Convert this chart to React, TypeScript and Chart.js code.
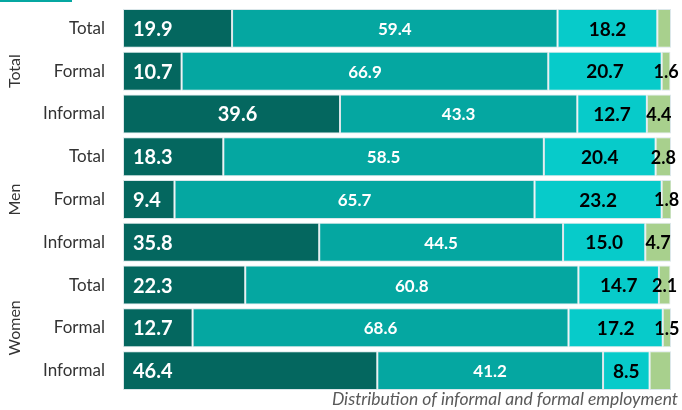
import React, { useEffect, useRef } from "react";
import { Chart, registerables } from "chart.js";

Chart.register(...registerables);

const rowLabels = ["Total", "Formal", "Informal", "Total", "Formal", "Informal", "Total", "Formal", "Informal"];
const groupLabels = ["Total", "Men", "Women"];
const seriesNames = ["Informal employment (informal sector)", "Informal employment (formal sector)", "Formal employment (formal sector)", "Other"];
const darkSeries = [19.9, 10.7, 39.6, 18.3, 9.4, 35.8, 22.3, 12.7, 46.4];
const tealSeries = [59.4, 66.9, 43.3, 58.5, 65.7, 44.5, 60.8, 68.6, 41.2];
const cyanSeries = [18.2, 20.7, 12.7, 20.4, 23.2, 15.0, 14.7, 17.2, 8.5];
const greenSeries = [2.5, 1.6, 4.4, 2.8, 1.8, 4.7, 2.1, 1.5, 3.9];
const greenShown = [false, true, true, true, true, true, true, true, false];
const darkLabelAlign = ["left", "left", "center", "left", "left", "left", "left", "left", "left"];
const caption = "Distribution of informal and formal employment";

const colors = ["#04675F", "#05A7A1", "#07CBCA", "#A8D08D"];
const FONT = "Lato, 'Open Sans', sans-serif";

const labelPlugin = {
  id: "labelsPlugin",
  afterDatasetsDraw(chart: any) {
    const ctx = chart.ctx;
    ctx.save();
    ctx.textBaseline = "middle";
    const yScale = chart.scales.y;
    chart.data.datasets.forEach((ds: any, di: number) => {
      const meta = chart.getDatasetMeta(di);
      meta.data.forEach((el: any, i: number) => {
        const v = ds.data[i];
        if (di === 3 && !greenShown[i]) return;
        const txt = v.toFixed(1);
        const left = Math.min(el.x, el.base);
        const right = Math.max(el.x, el.base);
        const cx = (left + right) / 2;
        if (di === 0) {
          ctx.fillStyle = "#ffffff";
          ctx.font = `bold 20px ${FONT}`;
          if (darkLabelAlign[i] === "left") {
            ctx.textAlign = "left";
            ctx.fillText(txt, left + 10, el.y + 1);
          } else {
            ctx.textAlign = "center";
            ctx.fillText(txt, cx + 6, el.y + 1);
          }
        } else if (di === 1) {
          ctx.fillStyle = "#ffffff";
          ctx.font = `bold 17px ${FONT}`;
          ctx.textAlign = "center";
          ctx.fillText(txt, cx, el.y + 1);
        } else if (di === 2) {
          ctx.fillStyle = "#000000";
          ctx.font = `bold 19px ${FONT}`;
          ctx.textAlign = "center";
          ctx.fillText(txt, cx, el.y + 1);
        } else {
          ctx.fillStyle = "#000000";
          ctx.font = `bold 18px ${FONT}`;
          ctx.textAlign = "center";
          ctx.fillText(txt, cx, el.y + 1);
        }
      });
    });
    // group labels
    ctx.fillStyle = "#333333";
    ctx.font = `16px ${FONT}`;
    ctx.textAlign = "center";
    groupLabels.forEach((g, gi) => {
      const yc = yScale.getPixelForValue(gi * 3 + 1);
      ctx.save();
      ctx.translate(15, yc);
      ctx.rotate(-Math.PI / 2);
      ctx.fillText(g, 0, 0);
      ctx.restore();
    });
    // caption
    ctx.fillStyle = "#595959";
    ctx.font = `italic 17.5px ${FONT}`;
    ctx.textAlign = "right";
    ctx.textBaseline = "alphabetic";
    ctx.fillText(caption, 678, 405);
    ctx.restore();
  },
};

export default function App() {
  const ref = useRef<HTMLCanvasElement>(null);
  useEffect(() => {
    document.body.style.margin = "0";
    const data = [darkSeries, tealSeries, cyanSeries, greenSeries];
    const chart = new Chart(ref.current as HTMLCanvasElement, {
      type: "bar",
      data: {
        labels: rowLabels,
        datasets: data.map((d, i) => ({
          label: seriesNames[i],
          data: d,
          backgroundColor: colors[i],
          borderColor: "rgba(215,228,232,0.9)",
          borderWidth: 1,
          borderSkipped: false,
          barPercentage: 0.91,
          categoryPercentage: 1,
        })),
      },
      options: {
        indexAxis: "y",
        responsive: false,
        animation: false,
        layout: { padding: { top: 7, bottom: 18, left: 0, right: 11 } },
        plugins: { legend: { display: false }, tooltip: { enabled: false } },
        scales: {
          x: { stacked: true, min: 0, max: 100, display: false },
          y: {
            stacked: true,
            grid: { display: false, drawTicks: false },
            border: { display: false },
            ticks: { color: "#333333", font: { family: FONT, size: 17 }, padding: 18 },
            afterFit(scale: any) {
              scale.width = 123;
              scale.paddingTop = 0;
              scale.paddingBottom = 0;
            },
          },
        },
      },
      plugins: [labelPlugin],
    } as any);
    return () => chart.destroy();
  }, []);
  return (
    <div style={{ position: "relative", width: 682, height: 410, background: "#fff" }}>
      <div style={{ position: "absolute", left: 0, top: 0, width: 72, height: 2, background: "#05A7A1" }} />
      <canvas ref={ref} width={682} height={410} style={{ display: "block" }} />
    </div>
  );
}
